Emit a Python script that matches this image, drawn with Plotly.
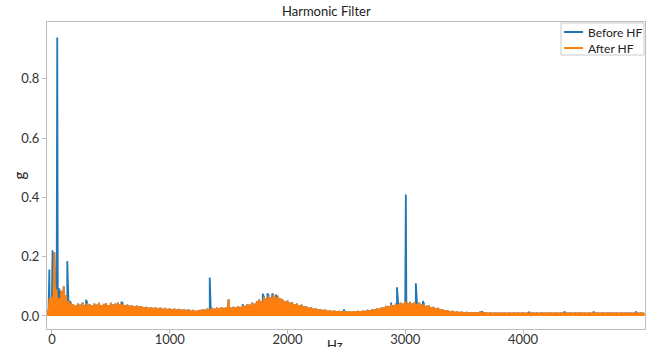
import plotly.graph_objects as go

# ---------------- data ----------------
hz_start = -40          # first spectrum bin shown (Hz)
hz_step = 20            # spacing of the upper-envelope samples (Hz)

# upper envelope of the "After HF" spectrum (g), one value per 20 Hz
after_hi = [
    0.020, 0.060, 0.065, 0.215, 0.090, 0.060, 0.085, 0.100, 0.070, 0.050,   # -40 .. 140
    0.045, 0.040, 0.035, 0.042, 0.038, 0.045, 0.036, 0.043, 0.040, 0.035,   # 160 .. 340
    0.042, 0.038, 0.044, 0.036, 0.041, 0.043, 0.037, 0.044, 0.039, 0.042,   # 360 .. 540
    0.045, 0.040, 0.043, 0.036, 0.038, 0.035, 0.037, 0.033, 0.035, 0.032,   # 560 .. 740
    0.033, 0.030, 0.031, 0.028, 0.030, 0.027, 0.029, 0.026, 0.028, 0.025,   # 760 .. 940
    0.027, 0.024, 0.026, 0.023, 0.025, 0.022, 0.024, 0.021, 0.023, 0.020,   # 960 .. 1140
    0.022, 0.018, 0.020, 0.017, 0.019, 0.020, 0.022, 0.021, 0.025, 0.024,   # 1160 .. 1340
    0.027, 0.025, 0.028, 0.026, 0.030, 0.027, 0.029, 0.056, 0.028, 0.031,   # 1360 .. 1540
    0.030, 0.033, 0.031, 0.036, 0.034, 0.040, 0.038, 0.045, 0.042, 0.050,   # 1560 .. 1740
    0.055, 0.050, 0.065, 0.060, 0.070, 0.062, 0.072, 0.065, 0.068, 0.060,   # 1760 .. 1940
    0.055, 0.050, 0.052, 0.045, 0.047, 0.040, 0.042, 0.036, 0.038, 0.033,   # 1960 .. 2140
    0.032, 0.028, 0.030, 0.025, 0.026, 0.022, 0.023, 0.020, 0.021, 0.018,   # 2160 .. 2340
    0.019, 0.017, 0.018, 0.016, 0.017, 0.015, 0.016, 0.015, 0.016, 0.014,   # 2360 .. 2540
    0.016, 0.015, 0.017, 0.016, 0.018, 0.017, 0.020, 0.019, 0.023, 0.022,   # 2560 .. 2740
    0.026, 0.025, 0.030, 0.029, 0.034, 0.033, 0.038, 0.036, 0.042, 0.040,   # 2760 .. 2940
    0.045, 0.042, 0.050, 0.044, 0.048, 0.043, 0.047, 0.041, 0.045, 0.038,   # 2960 .. 3140
    0.040, 0.034, 0.036, 0.030, 0.031, 0.026, 0.027, 0.022, 0.023, 0.019,   # 3160 .. 3340
    0.019, 0.016, 0.017, 0.014, 0.015, 0.013, 0.014, 0.012, 0.013, 0.012,   # 3360 .. 3540
    0.012, 0.011, 0.012, 0.011, 0.016, 0.011, 0.012, 0.010, 0.011, 0.010,   # 3560 .. 3740
    0.011, 0.010, 0.011, 0.010, 0.011, 0.010, 0.011, 0.010, 0.011, 0.010,   # 3760 .. 3940
    0.011, 0.010, 0.011, 0.010, 0.011, 0.010, 0.011, 0.010, 0.011, 0.010,   # 3960 .. 4140
    0.011, 0.010, 0.011, 0.010, 0.012, 0.010, 0.011, 0.010, 0.011, 0.010,   # 4160 .. 4340
    0.011, 0.010, 0.011, 0.010, 0.011, 0.010, 0.012, 0.010, 0.011, 0.010,   # 4360 .. 4540
    0.011, 0.010, 0.011, 0.010, 0.011, 0.010, 0.011, 0.010, 0.012, 0.010,   # 4560 .. 4740
    0.011, 0.010, 0.011, 0.010, 0.011, 0.010, 0.011, 0.010, 0.011, 0.010,   # 4760 .. 4940
    0.011, 0.010, 0.011, 0.010,                                             # 4960 .. 5020
]

# noise floor of the spectrum (g), one value per 200 Hz segment
after_floor = [0.004, 0.004, 0.004, 0.004, 0.003, 0.003, 0.003, 0.003, 0.003,
               0.004, 0.004, 0.003, 0.003, 0.003, 0.003, 0.004, 0.003, 0.003,
               0.003, 0.003, 0.003, 0.003, 0.003, 0.003, 0.003, 0.003]

# harmonic peaks present only before the filter (Hz, g)
before_peak_hz = [-22, 5, 15, 45, 62, 130, 150, 290, 590, 1340, 1620, 1790,
                  1830, 1870, 1905, 2200, 2480, 2880, 2930, 3005, 3090, 3150,
                  3650, 4050, 4350, 4600, 4960]
before_peak_g = [0.157, 0.222, 0.165, 0.940, 0.093, 0.185, 0.050, 0.055, 0.048,
                 0.130, 0.040, 0.075, 0.076, 0.075, 0.072, 0.030, 0.022, 0.045,
                 0.097, 0.410, 0.110, 0.050, 0.016, 0.014, 0.014, 0.015, 0.015]

series_names = ["Before HF", "After HF"]
series_colors = ["#1f77b4", "#ff7f0e"]

x_ticks = [0, 1000, 2000, 3000, 4000]
y_ticks = [0.0, 0.2, 0.4, 0.6, 0.8]

# ---------------- build traces ----------------
after_x, after_y = [], []
for i, v in enumerate(after_hi):
    f = hz_start + hz_step * i
    after_x += [f, f + hz_step / 2]
    after_y += [v, after_floor[i // 10]]

pts = list(zip(after_x, after_y)) + list(zip(before_peak_hz, before_peak_g))
pts.sort(key=lambda p: p[0])
before_x = [p[0] for p in pts]
before_y = [p[1] for p in pts]

FONT = "Lato, 'Open Sans', sans-serif"

fig = go.Figure()
fig.add_trace(go.Scatter(x=before_x, y=before_y, mode="lines", name=series_names[0],
                         line=dict(color=series_colors[0], width=1.8),
                         showlegend=False))
fig.add_trace(go.Scatter(x=after_x, y=after_y, mode="lines", name=series_names[1],
                         line=dict(color=series_colors[1], width=1.8),
                         fill="tozeroy", fillcolor=series_colors[1],
                         showlegend=False))

axis_common = dict(showline=True, mirror=True, linecolor="#bdbdbd", linewidth=1,
                   ticks="outside", ticklen=4, tickcolor="#bdbdbd",
                   showgrid=False, zeroline=False, automargin=False,
                   tickfont=dict(family=FONT, size=13, color="#333333"))

fig.update_layout(
    width=649, height=347,
    margin=dict(l=47, r=4, t=22, b=18),
    paper_bgcolor="white", plot_bgcolor="white",
    font=dict(family=FONT, size=12, color="#222222"),
    xaxis=dict(range=[-42, 5036], tickvals=x_ticks, ticklabelstandoff=-6,
               **axis_common),
    yaxis=dict(range=[-0.044, 0.992], tickvals=y_ticks, tickformat=".1f",
               **axis_common),
    showlegend=False,
)

# ---- legend box (drawn in paper coordinates, top-right inside the axes) ----
fig.add_shape(type="rect", xref="paper", yref="paper",
              x0=0.8595, x1=0.9983, y0=0.8925, y1=0.9967,
              line=dict(color="#cccccc", width=1),
              fillcolor="rgba(255,255,255,0.85)", layer="above")
leg_y = [0.9674, 0.9153]
for name, col, yy in zip(series_names, series_colors, leg_y):
    fig.add_shape(type="line", xref="paper", yref="paper",
                  x0=0.8645, x1=0.8963, y0=yy, y1=yy,
                  line=dict(color=col, width=2), layer="above")
    fig.add_annotation(text=name, xref="paper", yref="paper", x=0.9013, y=yy,
                       xanchor="left", yanchor="middle", showarrow=False,
                       font=dict(family=FONT, size=12, color="#222222"))

fig.add_annotation(text="Harmonic Filter", xref="paper", yref="paper",
                   x=0.468, y=1, yshift=11, xanchor="center", yanchor="middle",
                   showarrow=False,
                   font=dict(family=FONT, size=13, color="#222222"))
fig.add_annotation(text="g", xref="paper", yref="paper", x=0, y=0.5,
                   xshift=-29, xanchor="center", yanchor="middle",
                   showarrow=False, textangle=-90,
                   font=dict(family=FONT, size=15, color="#222222"))
fig.add_annotation(text="Hz", xref="paper", yref="paper", x=0.481, y=0,
                   yshift=-16, xanchor="center", yanchor="middle",
                   showarrow=False,
                   font=dict(family=FONT, size=13, color="#222222"))

fig.write_html("out.html")
